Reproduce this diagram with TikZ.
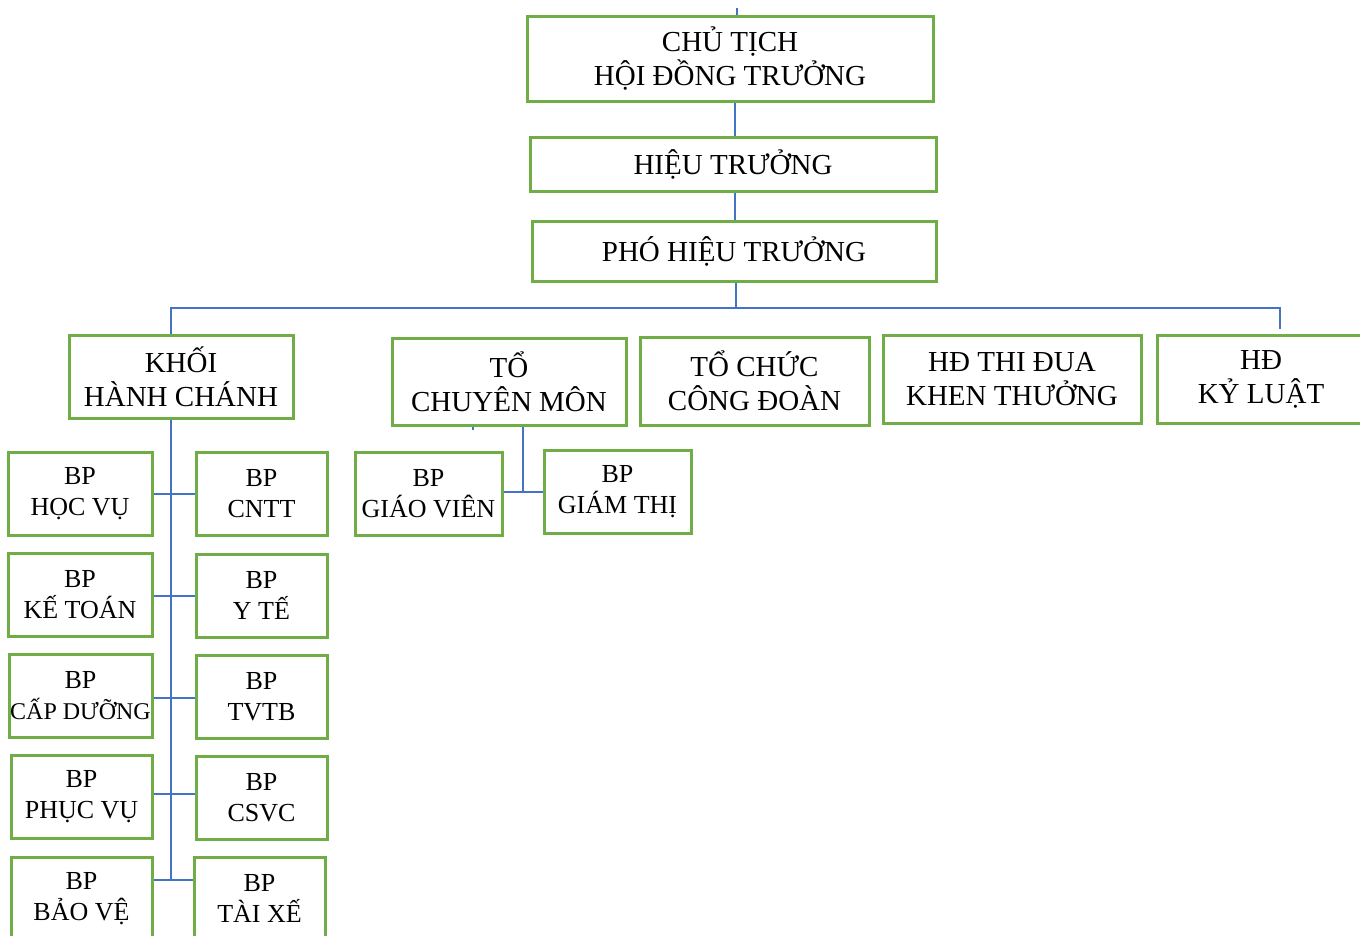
\documentclass[tikz,border=0pt]{standalone}
\usepackage{fontspec}
\setmainfont{Liberation Serif}
\definecolor{boxgreen}{HTML}{70AD47}
\definecolor{linkblue}{HTML}{4472C4}
\begin{document}
\begin{tikzpicture}[x=1pt,y=-1pt,
  box/.style={draw=boxgreen, line width=3pt, inner sep=0pt, align=center,
    font=\fontsize{29}{34}\selectfont},
  bp/.style={box, minimum height=83pt, font=\fontsize{26}{31}\selectfont},
  link/.style={draw=linkblue, line width=1.3pt}]
\useasboundingbox (0,0) rectangle (1360,935);

\coordinate (top) at (737,8);
\coordinate (busL) at (171,308);
\coordinate (busR) at (1280,308);
\coordinate (spine) at (171,880);
\coordinate (cmj) at (523,492);
\coordinate (tick) at (473,430);

\node[box, minimum width=406pt, minimum height=85pt] (ct) at (730,59) {CHỦ TỊCH\\HỘI ĐỒNG TRƯỞNG};
\node[box, minimum width=406pt, minimum height=54pt] (ht) at (733,164) {HIỆU TRƯỞNG};
\node[box, minimum width=404pt, minimum height=60pt] (pht) at (734,251) {PHÓ HIỆU TRƯỞNG};

\node[box, minimum width=224pt, minimum height=83pt] (khoi) at (181,376.5) {KHỐI\\HÀNH CHÁNH};
\node[box, minimum width=234pt, minimum height=87pt] (tcm) at (509,381.5) {TỔ\\CHUYÊN MÔN};
\node[box, minimum width=229pt, minimum height=88pt] (cd) at (754.5,381) {TỔ CHỨC\\CÔNG ĐOÀN};
\node[box, minimum width=258pt, minimum height=88pt] (td) at (1012,379) {HĐ THI ĐUA\\KHEN THƯỞNG};
\node[box, minimum width=208pt, minimum height=88pt] (kl) at (1261,379) {HĐ\\KỶ LUẬT};

\node[bp, minimum width=144pt] (hv) at (80,493.5) {BP\\HỌC VỤ};
\node[bp, minimum width=144pt] (kt) at (80,594.5) {BP\\KẾ TOÁN};
\node[bp, minimum width=143pt] (cdg) at (80.5,695.5) {BP\\{\fontsize{24}{31}\selectfont CẤP DƯỠNG}};
\node[bp, minimum width=141pt] (pv) at (81.5,796.5) {BP\\PHỤC VỤ};
\node[bp, minimum width=141pt] (bv) at (81.5,898.5) {BP\\BẢO VỆ};

\node[bp, minimum width=131pt] (cntt) at (261.5,493.5) {BP\\CNTT};
\node[bp, minimum width=131pt] (yt) at (261.5,595.5) {BP\\Y TẾ};
\node[bp, minimum width=131pt] (tvtb) at (261.5,696.5) {BP\\TVTB};
\node[bp, minimum width=131pt] (csvc) at (261.5,797.5) {BP\\CSVC};
\node[bp, minimum width=131pt] (tx) at (259.5,898.5) {BP\\TÀI XẾ};

\node[bp, minimum width=147pt] (gv) at (428.5,493.5) {BP\\GIÁO VIÊN};
\node[bp, minimum width=147pt] (gt) at (617.5,491.5) {BP\\GIÁM THỊ};

% top levels
\draw[link] (top) -- (ct.north -| top);
\draw[link] (ct.south -| 735,0) -- (ht.north -| 735,0);
\draw[link] (ht.south -| 735,0) -- (pht.north -| 735,0);
\draw[link] (pht.south -| 736,0) -- (736,308);
\draw[link, shorten >=5pt] (khoi.north -| busL) -- (busL) -- (busR) -- (kl.north -| busR);

% khoi hanh chanh
\draw[link] (khoi.south -| spine) -- (spine);
\draw[link] (hv.east |- 0,494) -- (cntt.west |- 0,494);
\draw[link] (kt.east |- 0,596) -- (yt.west |- 0,596);
\draw[link] (cdg.east |- 0,698) -- (tvtb.west |- 0,698);
\draw[link] (pv.east |- 0,794) -- (csvc.west |- 0,794);
\draw[link] (bv.east |- spine) -- (tx.west |- spine);

% to chuyen mon
\draw[link] (tcm.south -| tick) -- (tick);
\draw[link] (tcm.south -| cmj) -- (cmj);
\draw[link] (gv.east |- cmj) -- (gt.west |- cmj);
\end{tikzpicture}
\end{document}
